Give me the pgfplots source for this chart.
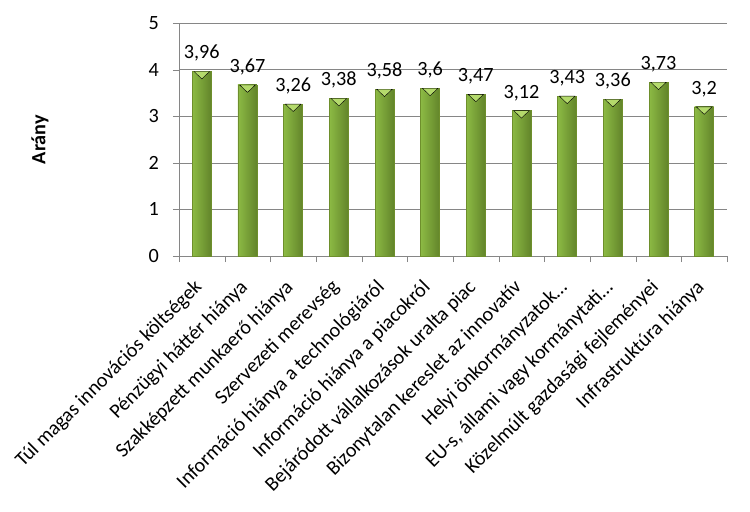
\documentclass[border=0pt]{standalone}
\usepackage{fontspec}
\setmainfont{Carlito}
\usepackage{pgfplots}
\pgfplotsset{compat=1.18}
\definecolor{GridGray}{HTML}{868686}
\definecolor{BarL}{HTML}{8CBA44}
\definecolor{BarM}{HTML}{9DC952}
\definecolor{BarR}{HTML}{62842A}
\definecolor{BarEdge}{HTML}{6E8F2C}
\definecolor{BarTop}{HTML}{B4DA6C}
\newcommand{\chartfont}{\fontsize{20.3}{24}\selectfont}

\pgfplotsset{onebar/.style={ybar, bar width=19bp, bar shift=0pt, forget plot,
  left color=BarL, middle color=BarM, right color=BarR, draw=BarEdge,
  nodes near coords,
  every node near coord/.append style={anchor=base, inner sep=0pt, yshift=12.5bp, text=black}}}

\begin{document}
\begin{tikzpicture}[font=\chartfont]
\begin{axis}[
  scale only axis, width=548bp, height=233bp,
  xmin=-0.5, xmax=11.5, ymin=0, ymax=5,
  axis x line*=bottom, axis y line*=left,
  axis line style={-, draw=GridGray},
  ymajorgrids, grid style={GridGray},
  tick align=outside, major tick length=6bp, minor tick length=6bp,
  ytick={0,1,2,3,4,5}, ytick pos=left,
  ytick style={draw=GridGray},
  xtick={0,...,11}, xtick pos=bottom,
  minor xtick={-0.5,0.5,...,11.5},
  major x tick style={draw=none},
  minor x tick style={draw=GridGray},
  xticklabels={Túl magas innovációs költségek, Pénzügyi háttér hiánya,
    Szakképzett munkaerő hiánya, Szervezeti merevség,
    Információ hiánya a technológiáról, Információ hiánya a piacokról,
    Bejáródott vállalkozások uralta piac, Bizonytalan kereslet az innovatív,
    Helyi önkormányzatok…, {EU-s, állami vagy kormánytati…},
    Közelmúlt gazdasági fejleményei, Infrastruktúra hiánya},
  xticklabel style={yshift=-16bp, xshift=-9bp, rotate=45,
    anchor=north east, inner sep=0pt},
  yticklabel style={anchor=east, inner sep=0pt, xshift=-14bp},
  ylabel={\bfseries Arány},
  ylabel style={at={(axis description cs:-0.2536,0.5)}, anchor=center},
  /pgf/number format/.cd, use comma, assume math mode=true,
]
\addplot[onebar] coordinates {(0,3.96)};
\addplot[onebar] coordinates {(1,3.67)};
\addplot[onebar] coordinates {(2,3.26)};
\addplot[onebar] coordinates {(3,3.38)};
\addplot[onebar] coordinates {(4,3.58)};
\addplot[onebar] coordinates {(5,3.6)};
\addplot[onebar] coordinates {(6,3.47)};
\addplot[onebar] coordinates {(7,3.12)};
\addplot[onebar] coordinates {(8,3.43)};
\addplot[onebar] coordinates {(9,3.36)};
\addplot[onebar] coordinates {(10,3.73)};
\addplot[onebar] coordinates {(11,3.2)};
% light bevel at the top of each bar
\addplot[only marks, forget plot, mark=triangle*,
  mark options={yshift=-2.5bp, rotate=180, yscale=0.55, fill=BarTop, draw=none},
  mark size=9bp]
  coordinates {(0,3.96) (1,3.67) (2,3.26) (3,3.38) (4,3.58) (5,3.6)
               (6,3.47) (7,3.12) (8,3.43) (9,3.36) (10,3.73) (11,3.2)};
\coordinate (o) at (rel axis cs:0,0);
\end{axis}
\pgfresetboundingbox
\useasboundingbox ([shift={(-179bp,-256bp)}]o) rectangle ([shift={(571bp,256bp)}]o);
\end{tikzpicture}
\end{document}
